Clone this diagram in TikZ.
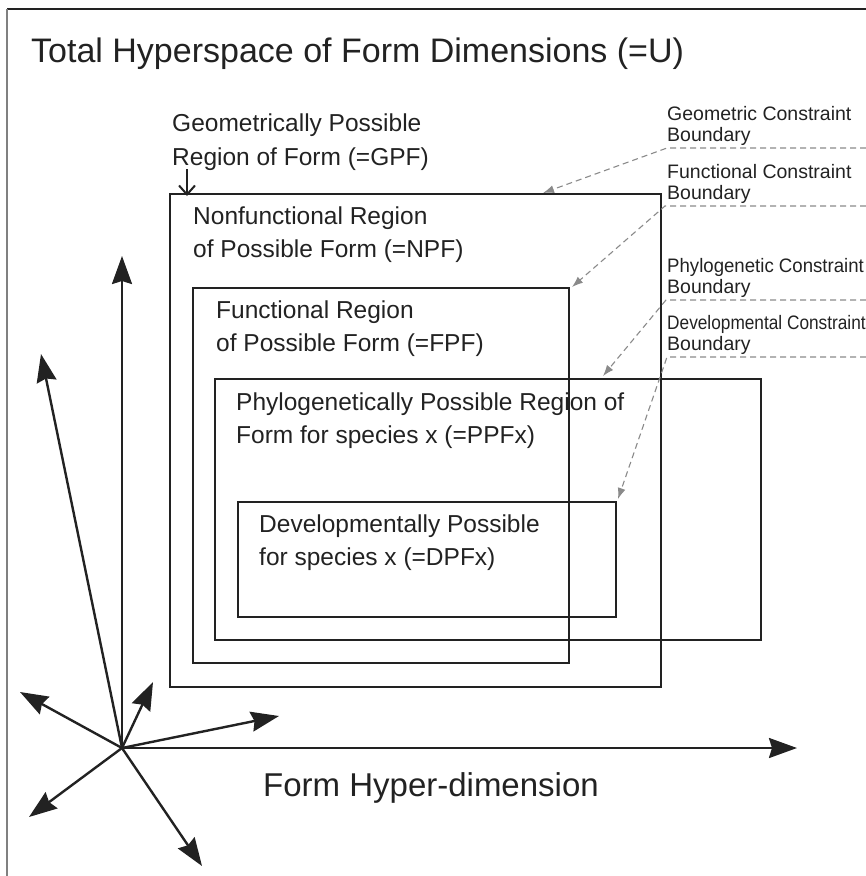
\documentclass[tikz,border=0pt]{standalone}
\usepackage{fontspec}
\setmainfont{Liberation Sans}
\newfontfamily\narrowfont[FakeStretch=0.885]{Liberation Sans}
\newfontfamily\slimfont[FakeStretch=0.955]{Liberation Sans}
\usetikzlibrary{arrows.meta}
\definecolor{ink}{HTML}{222222}
\definecolor{leader}{HTML}{8A8A8A}
\begin{document}
\begin{tikzpicture}[x=1pt,y=-1pt,
  lbl/.style={anchor=base west,inner sep=0pt,text=ink},
  titlefont/.style={lbl,font=\fontsize{34}{40}\selectfont},
  midfont/.style={lbl,font=\fontsize{24.5}{30}\selectfont},
  smallfont/.style={lbl,font=\fontsize{19.5}{24}\selectfont},
  region/.style={draw=ink,line width=2.8pt},
  axis/.style={draw=ink,line width=2.4pt,-{Stealth[length=28pt,width=20pt,inset=3pt]}},
  guide/.style={draw=leader,line width=1.1pt,dash pattern=on 6pt off 4pt,-{Latex[length=11pt,width=8pt]}}]
\useasboundingbox (0,0) rectangle (866,876);
% frame
\draw[ink,line width=1.3pt] (7,9) -- (866,9);
\draw[gray,line width=1.3pt] (7,9) -- (7,876);
% title
\node[titlefont] (title) at (31,62) {Total Hyperspace of Form Dimensions (=U)};
% regions
\coordinate (gpfNW) at (170,194); \coordinate (gpfSE) at (661,687);
\coordinate (fpfNW) at (193,288); \coordinate (fpfSE) at (569,663);
\coordinate (ppfNW) at (215,379); \coordinate (ppfSE) at (761,640);
\coordinate (dpfNW) at (238,502); \coordinate (dpfSE) at (616,617);
\draw[region] (gpfNW) rectangle (gpfSE);
\draw[region] (fpfNW) rectangle (fpfSE);
\draw[region] (ppfNW) rectangle (ppfSE);
\draw[region] (dpfNW) rectangle (dpfSE);
% region labels
\node[midfont] (gpf1) at (172,131) {Geometrically Possible};
\node[midfont] (gpf2) at (172,165) {Region of Form (=GPF)};
\node[midfont] (npf1) at (193,224) {Nonfunctional Region};
\node[midfont] (npf2) at (193,257) {of Possible Form (=NPF)};
\node[midfont] (fpf1) at (216,318) {Functional Region};
\node[midfont] (fpf2) at (216,351) {of Possible Form (=FPF)};
\node[midfont] (ppf1) at (236,410) {Phylogenetically Possible Region of};
\node[midfont] (ppf2) at (236,443) {Form for species x (=PPFx)};
\node[midfont] (dpf1) at (259,532) {Developmentally Possible};
\node[midfont] (dpf2) at (259,565) {for species x (=DPFx)};
\coordinate (gpfptS) at (187,169);
\coordinate (gpfptE) at (187,196);
\draw[ink,line width=2pt,-{Straight Barb[length=9pt,width=16pt]}] (gpfptS) -- (gpfptE);
% constraint labels
\node[smallfont] (geo1) at (667,120) {Geometric Constraint};
\node[smallfont] (geo2) at (667,141) {Boundary};
\node[smallfont] (fun1) at (667,178) {Functional Constraint};
\node[smallfont] (fun2) at (667,199) {Boundary};
\node[smallfont,font=\slimfont\fontsize{19.5}{24}\selectfont] (phy1) at (667,272) {Phylogenetic Constraint};
\node[smallfont] (phy2) at (667,293) {Boundary};
\node[smallfont,font=\narrowfont\fontsize{19.5}{24}\selectfont] (dev1) at (667,329) {Developmental Constraint};
\node[smallfont] (dev2) at (667,350) {Boundary};
% leaders
\coordinate (geoR) at (866,148); \coordinate (geoK) at (667,148); \coordinate (geoT) at (543,193);
\coordinate (funR) at (866,206); \coordinate (funK) at (665,206); \coordinate (funT) at (572,287);
\coordinate (phyR) at (866,300); \coordinate (phyK) at (666,300); \coordinate (phyT) at (603,376);
\coordinate (devR) at (866,357); \coordinate (devK) at (667,357); \coordinate (devT) at (618,499);
\draw[guide] (geoR) -- (geoK) -- (geoT);
\draw[guide] (funR) -- (funK) -- (funT);
\draw[guide] (phyR) -- (phyK) -- (phyT);
\draw[guide] (devR) -- (devK) -- (devT);
% axes
\coordinate (O) at (122,748);
\coordinate (aUp) at (122,256);
\coordinate (aRight) at (797,748);
\coordinate (aUL) at (41,354);
\coordinate (aL) at (20,692);
\coordinate (aUR) at (153,682);
\coordinate (aR) at (279,716);
\coordinate (aDL) at (29,817);
\coordinate (aDR) at (202,866);
\foreach \t in {aUp,aRight,aUL,aL,aUR,aR,aDL,aDR}
  \draw[axis] (O) -- (\t);
\node[titlefont,font=\fontsize{33}{40}\selectfont] (formdim) at (263,796) {Form Hyper-dimension};
\end{tikzpicture}
\end{document}
